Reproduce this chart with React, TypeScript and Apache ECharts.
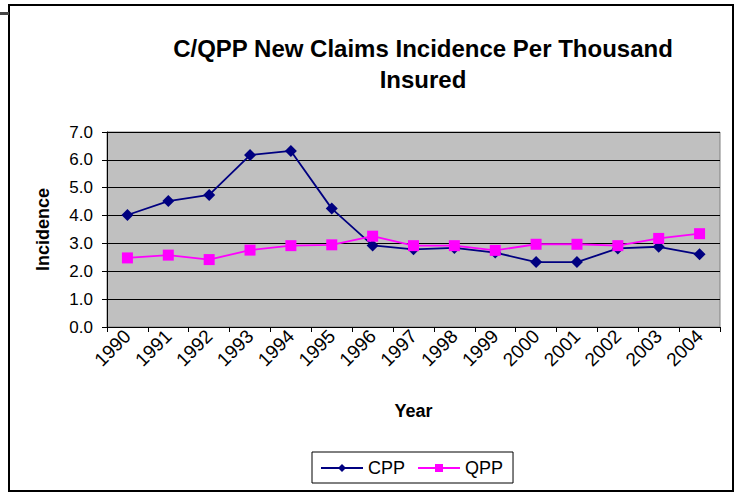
import React, { useEffect, useRef } from "react";
import * as echarts from "echarts";

const years = ["1990","1991","1992","1993","1994","1995","1996","1997","1998","1999","2000","2001","2002","2003","2004"];
const cpp = [4.02, 4.52, 4.74, 6.17, 6.32, 4.25, 2.93, 2.79, 2.84, 2.67, 2.33, 2.33, 2.82, 2.88, 2.61];
const qpp = [2.48, 2.58, 2.42, 2.76, 2.92, 2.95, 3.26, 2.92, 2.92, 2.75, 2.97, 2.97, 2.92, 3.18, 3.35];
const titleText = "C/QPP New Claims Incidence Per Thousand\nInsured";

const FONT = "'Liberation Sans', Arial, sans-serif";

export default function App() {
  const ref = useRef<HTMLDivElement>(null);
  useEffect(() => {
    document.body.style.margin = "0";
    const chart = echarts.init(ref.current!, null, { renderer: "svg" });
    chart.setOption({
      animation: false,
      backgroundColor: "#ffffff",
      textStyle: { fontFamily: FONT },
      title: {
        text: titleText,
        left: 418,
        top: 28,
        textAlign: "center",
        textStyle: { fontFamily: FONT, fontSize: 24, fontWeight: "bold", color: "#000", lineHeight: 31 },
      },
      grid: {
        left: 107,
        right: 16,
        top: 132,
        bottom: 171,
        show: true,
        backgroundColor: "#C0C0C0",
        borderColor: "#808080",
        borderWidth: 1,
      },
      xAxis: {
        type: "category",
        data: years,
        boundaryGap: true,
        name: "Year",
        nameLocation: "middle",
        nameGap: 75,
        nameTextStyle: { fontFamily: FONT, fontSize: 18, fontWeight: "bold", color: "#000" },
        axisLine: { lineStyle: { color: "#000", width: 1 } },
        axisTick: { show: true, interval: 0, length: 5, lineStyle: { color: "#000" } },
        axisLabel: { rotate: 45, interval: 0, fontFamily: FONT, fontSize: 19, color: "#000", margin: 6 },
        splitLine: { show: false },
      },
      yAxis: {
        type: "value",
        min: 0,
        max: 7,
        interval: 1,
        name: "Incidence",
        nameLocation: "middle",
        nameGap: 55,
        nameTextStyle: { fontFamily: FONT, fontSize: 18, fontWeight: "bold", color: "#000" },
        axisLine: { show: true, lineStyle: { color: "#000", width: 1 } },
        axisTick: { show: true, length: 5, lineStyle: { color: "#000" } },
        axisLabel: { fontFamily: FONT, fontSize: 17, color: "#000", margin: 14, formatter: (v: number) => v.toFixed(1) },
        splitLine: { show: true, lineStyle: { color: "#000", width: 1 } },
      },
      legend: {
        left: 312,
        top: 452,
        itemGap: 12,
        itemWidth: 42,
        itemHeight: 10,
        padding: [7, 10, 6, 8],
        borderColor: "#000",
        borderWidth: 1,
        textStyle: { fontFamily: FONT, fontSize: 18, color: "#000" },
        data: ["CPP", "QPP"],
      },
      graphic: [
        {
          type: "rect",
          shape: { x: 9, y: 5, width: 724, height: 486 },
          style: { fill: "none", stroke: "#000", lineWidth: 2 },
          silent: true,
        },
        {
          type: "rect",
          shape: { x: 0, y: 12, width: 9, height: 3 },
          style: { fill: "#444" },
          silent: true,
        },
      ],
      series: [
        {
          name: "CPP",
          type: "line",
          data: cpp,
          symbol: "diamond",
          symbolSize: 12,
          lineStyle: { color: "#000080", width: 1.8 },
          itemStyle: { color: "#000080" },
        },
        {
          name: "QPP",
          type: "line",
          data: qpp,
          symbol: "rect",
          symbolSize: 11,
          lineStyle: { color: "#FF00FF", width: 1.8 },
          itemStyle: { color: "#FF00FF" },
        },
      ],
    });
    return () => chart.dispose();
  }, []);
  return <div ref={ref} style={{ position: "fixed", left: 0, top: 0, width: 736, height: 498 }} />;
}
